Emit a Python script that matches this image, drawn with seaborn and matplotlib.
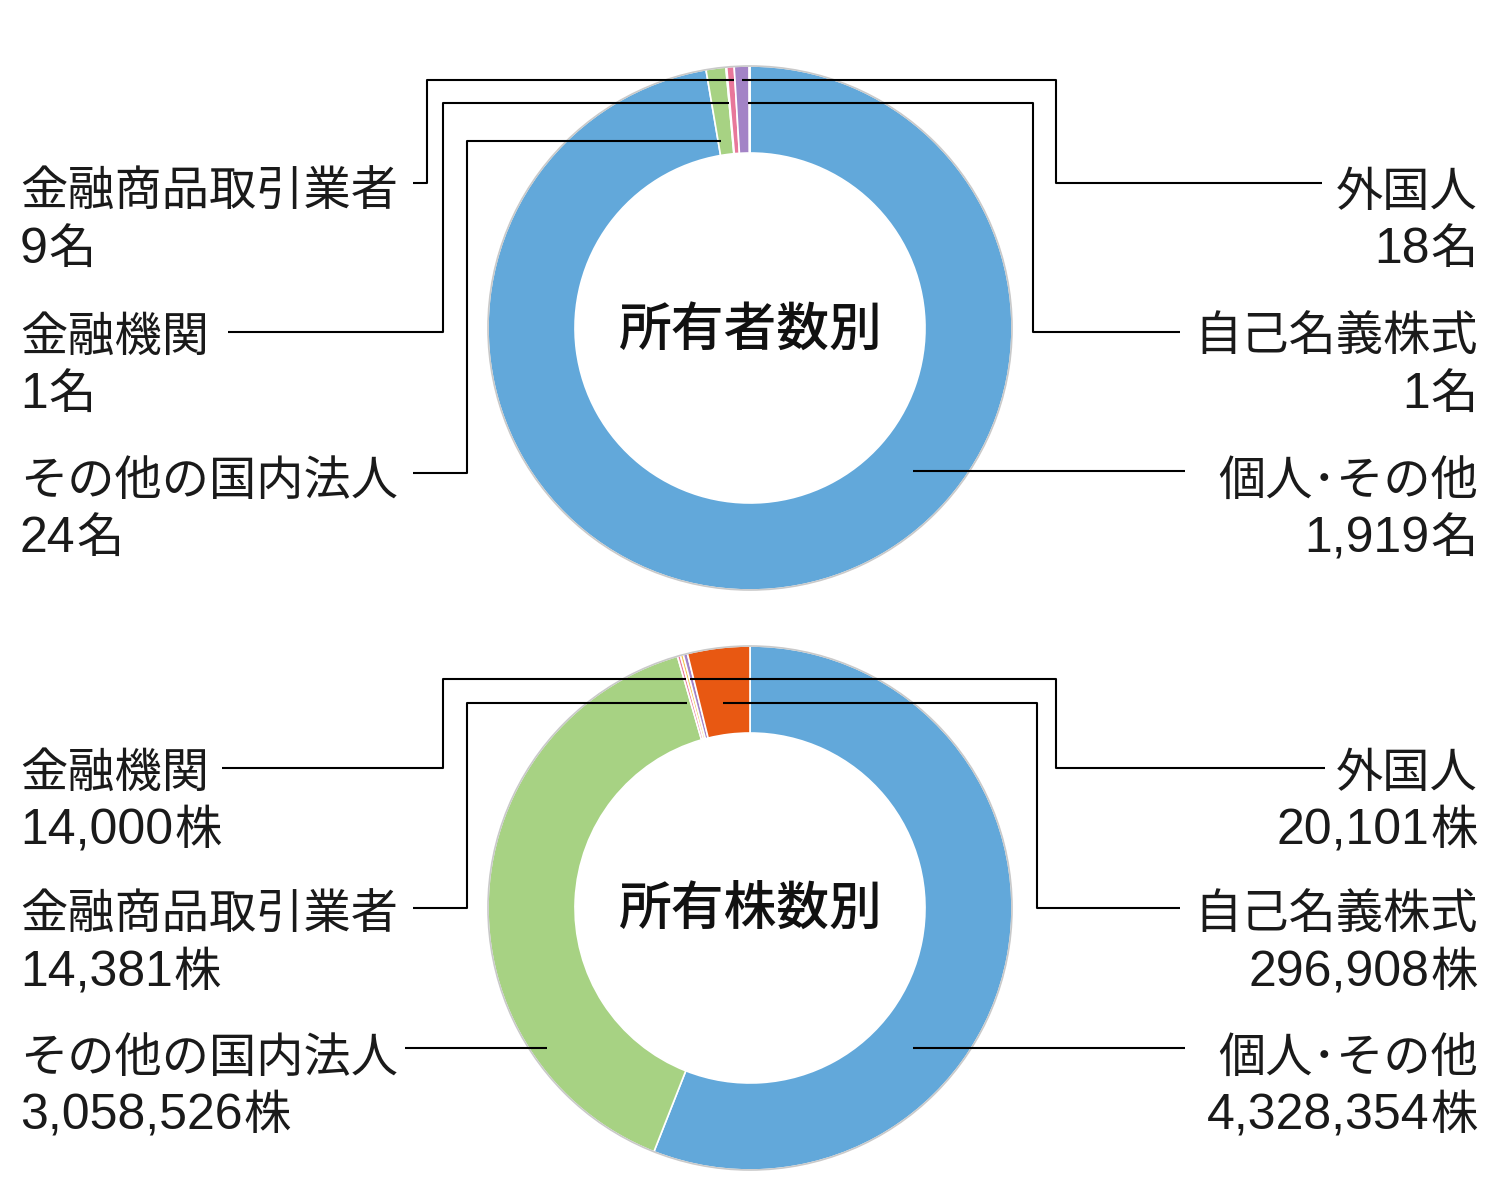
import matplotlib
matplotlib.use("Agg")
import matplotlib.pyplot as plt
from matplotlib.patches import Circle
import seaborn as sns

sns.set_theme(style="white")
plt.rcParams['font.family'] = ['Noto Sans CJK JP', 'DejaVu Sans']

W, H = 1500, 1183

# 所有者数別 (clockwise from 12 o'clock)
holder_cats = ['個人･その他', 'その他の国内法人', '金融機関', '金融商品取引業者', '外国人', '自己名義株式']
holder_vals = [1919, 24, 1, 9, 18, 1]
holder_unit = '名'

# 所有株数別 (clockwise from 12 o'clock)
share_cats = ['個人･その他', 'その他の国内法人', '金融商品取引業者', '金融機関', '外国人', '自己名義株式']
share_vals = [4328354, 3058526, 14381, 14000, 20101, 296908]
share_unit = '株'

cat_colors = {
    '個人･その他': '#62A8DA',
    'その他の国内法人': '#A7D283',
    '金融機関': '#F4C54E',
    '金融商品取引業者': '#E8779A',
    '外国人': '#A383C6',
    '自己名義株式': '#E85812',
}

TXT = '#1a1a1a'
NUM_FONT = ['Liberation Sans', 'DejaVu Sans']
CJK_FONT = ['Noto Sans CJK JP', 'DejaVu Sans']

fig = plt.figure(figsize=(W / 100, H / 100), dpi=100)
ax = fig.add_axes([0, 0, 1, 1])
ax.set_xlim(0, W)
ax.set_ylim(H, 0)
ax.set_aspect('equal')
ax.axis('off')
renderer = fig.canvas.get_renderer()

R_OUT, WIDTH = 262, 87


def donut(cx, cy, cats, vals, title):
    ax.pie(vals, colors=[cat_colors[c] for c in cats], center=(cx, cy), radius=R_OUT,
           startangle=-90, counterclock=True, frame=True,
           wedgeprops=dict(width=WIDTH, edgecolor='white', linewidth=1.2))
    ax.add_patch(Circle((cx, cy), R_OUT, fill=False, ec='#c9c9c9', lw=1.2, zorder=3))
    ax.text(cx, cy + 18, title, ha='center', va='baseline', fontsize=38,
            fontweight='medium', color='#111111', family=CJK_FONT)


def label(x, center_y, name, value, unit, ha):
    yb = center_y + 19
    ax.text(x, yb, name, ha=ha, va='baseline', fontsize=34, color=TXT, family=CJK_FONT)
    yb2 = yb + 57
    num = f'{value:,}'
    if ha == 'left':
        t = ax.text(x, yb2, num, ha='left', va='baseline', fontsize=36, color=TXT, family=NUM_FONT)
        w = t.get_window_extent(renderer).width
        ax.text(x + w + 1, yb2, unit, ha='left', va='baseline', fontsize=34, color=TXT, family=CJK_FONT)
    else:
        u = ax.text(x, yb2, unit, ha='right', va='baseline', fontsize=34, color=TXT, family=CJK_FONT)
        w = u.get_window_extent(renderer).width
        ax.text(x - w - 1, yb2, num, ha='right', va='baseline', fontsize=36, color=TXT, family=NUM_FONT)


def leader(points):
    xs, ys = zip(*points)
    ax.plot(xs, ys, color='black', lw=1.5, solid_capstyle='butt', zorder=5)


# top chart
donut(750, 328, holder_cats, holder_vals, '所有者数別')
hv = dict(zip(holder_cats, holder_vals))
label(20, 187, '金融商品取引業者', hv['金融商品取引業者'], holder_unit, 'left')
label(20, 332, '金融機関', hv['金融機関'], holder_unit, 'left')
label(20, 476, 'その他の国内法人', hv['その他の国内法人'], holder_unit, 'left')
label(1478, 187, '外国人', hv['外国人'], holder_unit, 'right')
label(1478, 332, '自己名義株式', hv['自己名義株式'], holder_unit, 'right')
label(1478, 476, '個人･その他', hv['個人･その他'], holder_unit, 'right')

leader([(413, 183), (427, 183), (427, 80), (734, 80)])
leader([(228, 332), (443, 332), (443, 103), (729, 103)])
leader([(413, 473), (467, 473), (467, 141), (721, 141)])
leader([(742, 80), (1056, 80), (1056, 183), (1322, 183)])
leader([(748, 103), (1033, 103), (1033, 332), (1180, 332)])
leader([(913, 471), (1185, 471)])

# bottom chart
donut(750, 908, share_cats, share_vals, '所有株数別')
sv = dict(zip(share_cats, share_vals))
label(20, 768, '金融機関', sv['金融機関'], share_unit, 'left')
label(20, 910, '金融商品取引業者', sv['金融商品取引業者'], share_unit, 'left')
label(20, 1053, 'その他の国内法人', sv['その他の国内法人'], share_unit, 'left')
label(1478, 768, '外国人', sv['外国人'], share_unit, 'right')
label(1478, 910, '自己名義株式', sv['自己名義株式'], share_unit, 'right')
label(1478, 1053, '個人･その他', sv['個人･その他'], share_unit, 'right')

leader([(222, 768), (443, 768), (443, 679), (686, 679)])
leader([(413, 908), (467, 908), (467, 703), (687, 703)])
leader([(405, 1048), (547, 1048)])
leader([(690, 679), (1056, 679), (1056, 768), (1325, 768)])
leader([(723, 703), (1037, 703), (1037, 908), (1180, 908)])
leader([(913, 1048), (1185, 1048)])

ax.set_xlim(0, W)
ax.set_ylim(H, 0)
fig.savefig('out.png', dpi=100)
